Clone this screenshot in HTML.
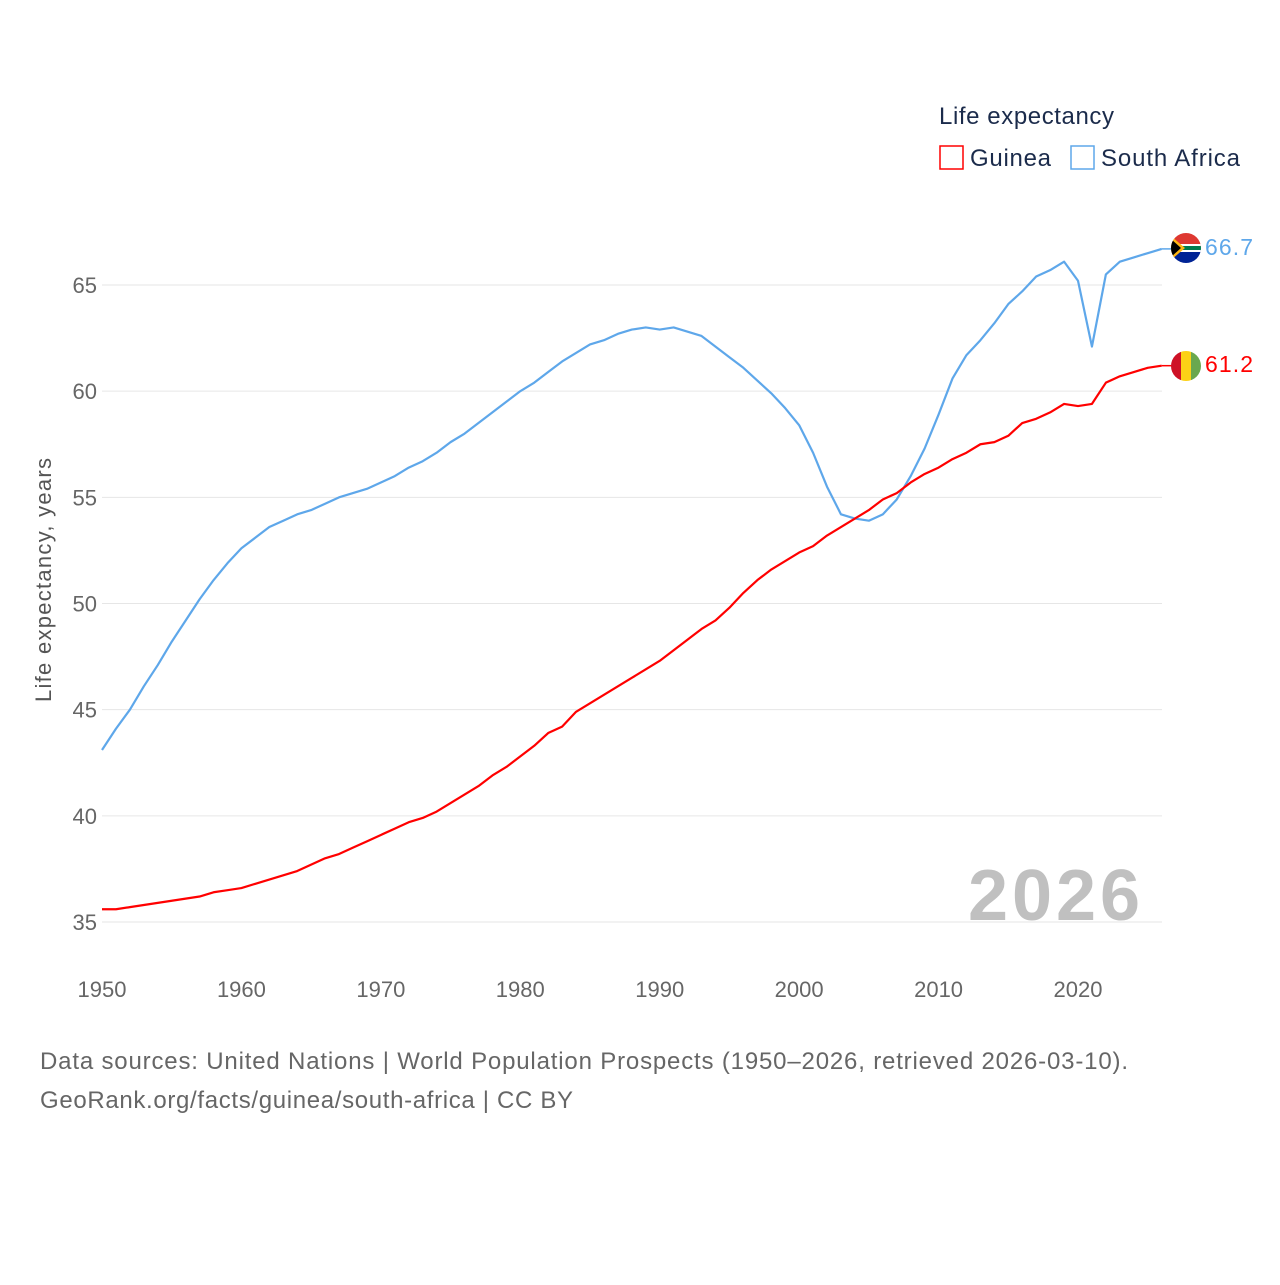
<!DOCTYPE html>
<html><head><meta charset="utf-8"><style>
body{margin:0;background:#fff;font-family:"Liberation Sans",sans-serif}
svg text{font-family:"Liberation Sans",sans-serif}
</style></head><body>
<svg id="chart" width="1280" height="1280" xmlns="http://www.w3.org/2000/svg">
<text x="939" y="124" font-size="24" fill="#1b2b4b" textLength="175">Life expectancy</text>
<g><rect x="940" y="146" width="23" height="23" fill="none" stroke="#f00" stroke-width="1.5"/><text x="970" y="166" font-size="24" fill="#1b2b4b" textLength="81">Guinea</text></g>
<g><rect x="1071" y="146" width="23" height="23" fill="none" stroke="#5ea7ea" stroke-width="1.5"/><text x="1101" y="166" font-size="24" fill="#1b2b4b" textLength="139">South Africa</text></g>
<g id="grid"></g><g id="xt"></g><g id="lines"></g>
<text transform="translate(51,580) rotate(-90)" text-anchor="middle" font-size="22" fill="#555" textLength="244">Life expectancy, years</text>
<text x="968" y="920" font-size="72" font-weight="bold" fill="#c0c0c0" textLength="172">2026</text>
<text x="40" y="1069" font-size="24" fill="#666" textLength="1088">Data sources: United Nations | World Population Prospects (1950–2026, retrieved 2026-03-10).</text>
<text x="40" y="1108" font-size="24" fill="#666" textLength="533">GeoRank.org/facts/guinea/south-africa | CC BY</text>
<defs><clipPath id="c1"><circle cx="1186" cy="248" r="15"/></clipPath><clipPath id="c2"><circle cx="1186" cy="366" r="15"/></clipPath></defs>
<g clip-path="url(#c1)"><rect x="1171" y="233" width="30" height="15" fill="#de3831"/><rect x="1171" y="248" width="30" height="15" fill="#002395"/><rect x="1171" y="244" width="30" height="8" fill="#fff"/><rect x="1171" y="246" width="30" height="4" fill="#007a4d"/><polygon points="1171,236 1185,248 1171,260" fill="#ffb612"/><polygon points="1171,239 1181,248 1171,257" fill="#000"/></g>
<g clip-path="url(#c2)"><rect x="1171" y="351" width="10" height="30" fill="#ce1126"/><rect x="1181" y="351" width="10" height="30" fill="#fcd116"/><rect x="1191" y="351" width="10" height="30" fill="#6aa84f"/></g>
<text x="1205" y="255" font-size="23" fill="#5ea7ea" textLength="48">66.7</text>
<text x="1205" y="372" font-size="23" fill="#f00" textLength="48">61.2</text>
</svg>
<script>
const years=[];for(let y=1950;y<=2026;y++)years.push(y);
const yTicks=[35,40,45,50,55,60,65];
const xTicks=[1950,1960,1970,1980,1990,2000,2010,2020];
const southAfrica=[43.1,44.1,45.0,46.1,47.1,48.2,49.2,50.2,51.1,51.9,52.6,53.1,53.6,53.9,54.2,54.4,54.7,55.0,55.2,55.4,55.7,56.0,56.4,56.7,57.1,57.6,58.0,58.5,59.0,59.5,60.0,60.4,60.9,61.4,61.8,62.2,62.4,62.7,62.9,63.0,62.9,63.0,62.8,62.6,62.1,61.6,61.1,60.5,59.9,59.2,58.4,57.1,55.5,54.2,54.0,53.9,54.2,54.9,56.0,57.3,58.9,60.6,61.7,62.4,63.2,64.1,64.7,65.4,65.7,66.1,65.2,62.1,65.5,66.1,66.3,66.5,66.7];
const guinea=[35.6,35.6,35.7,35.8,35.9,36.0,36.1,36.2,36.4,36.5,36.6,36.8,37.0,37.2,37.4,37.7,38.0,38.2,38.5,38.8,39.1,39.4,39.7,39.9,40.2,40.6,41.0,41.4,41.9,42.3,42.8,43.3,43.9,44.2,44.9,45.3,45.7,46.1,46.5,46.9,47.3,47.8,48.3,48.8,49.2,49.8,50.5,51.1,51.6,52.0,52.4,52.7,53.2,53.6,54.0,54.4,54.9,55.2,55.7,56.1,56.4,56.8,57.1,57.5,57.6,57.9,58.5,58.7,59.0,59.4,59.3,59.4,60.4,60.7,60.9,61.1,61.2];
const NS='http://www.w3.org/2000/svg';
const X=v=>102+(v-1950)*(1078-102)/70;
const Y=v=>922-(v-35)*(922-285)/30;
function mk(t,a,p){const e=document.createElementNS(NS,t);for(const k in a)e.setAttribute(k,a[k]);p.appendChild(e);return e;}
const g=document.getElementById('grid');
yTicks.forEach(t=>{
 const l=mk('line',{x1:102,x2:1162,y1:Y(t),y2:Y(t),stroke:'#e6e6e6','stroke-width':1},g);
 
 
 const tx=mk('text',{x:97,y:Y(t)+8,'text-anchor':'end','font-size':22,fill:'#666'},g);tx.textContent=t;
 
 
});
const xt=document.getElementById('xt');
xTicks.forEach(t=>{
 const tx=mk('text',{x:X(t),y:997,'text-anchor':'middle','font-size':22,fill:'#666'},xt);tx.textContent=t;
 
 
});
const L=document.getElementById('lines');
function line(d,c,n){
 const p=mk('polyline',{points:d.map((v,i)=>X(years[i])+','+Y(v)).join(' '),fill:'none',stroke:c,'stroke-width':2.2,'stroke-linejoin':'round'},L);
 
 
 const last=d.length-1;
 mk('line',{x1:X(years[last]),x2:X(years[last])+10,y1:Y(d[last]),y2:Y(d[last]),stroke:c,'stroke-width':1.5},L);
}
line(southAfrica,'#5ea7ea','south-africa-line');
line(guinea,'#ff0000','guinea-line');
</script>
</body></html>
